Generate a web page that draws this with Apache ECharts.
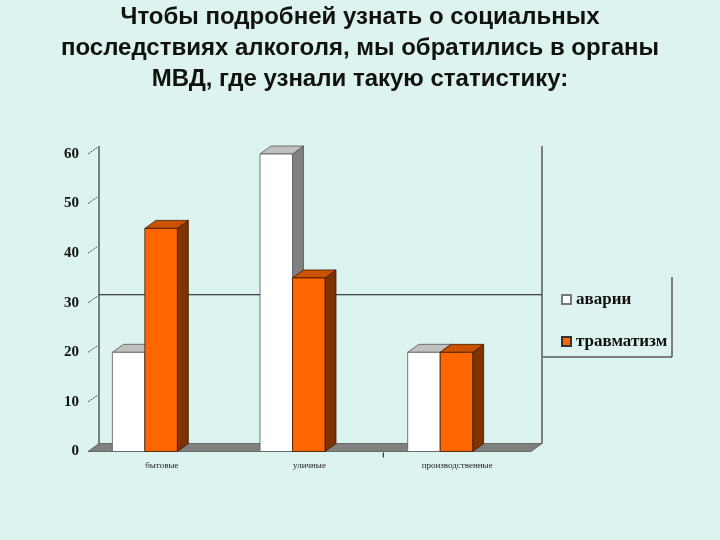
<!DOCTYPE html>
<html><head><meta charset="utf-8">
<script src="https://cdn.jsdelivr.net/npm/echarts@6/dist/echarts.min.js"></script>
<style>html,body{margin:0;padding:0;background:#dcf3f0;}#c{width:720px;height:540px;}</style>
</head><body><div id="c"></div>
<script>
const titleText = 'Чтобы подробней узнать о социальных\nпоследствиях алкоголя, мы обратились в органы\nМВД, где узнали такую статистику:';
const categories = ['бытовые', 'уличные', 'производственные'];
const seriesNames = ['аварии', 'травматизм'];
const accidents = [20, 60, 20];
const injuries = [45, 35, 20];
const yTicks = [0, 10, 20, 30, 40, 50, 60];
const backGridValue = 30;

const DX = 11, DY = -8;
const faceColors = [
  {front: '#ffffff', side: '#808080', top: '#c0c0c0', stroke: '#555555'},
  {front: '#ff6600', side: '#7f3300', top: '#cc5200', stroke: '#3a1a00'}
];
const barOffsets = [[-0.335, -0.115], [-0.115, 0.105]];

function boxRender(sIdx) {
  return function (params, api) {
    const cat = api.value(0), v = api.value(1);
    const base = api.coord([cat, 0]);
    const top = api.coord([cat, v]);
    const bw = api.size([1, 0])[0];
    const x0 = base[0] + barOffsets[sIdx][0] * bw;
    const x1 = base[0] + barOffsets[sIdx][1] * bw;
    const yb = base[1], yt = top[1];
    const c = faceColors[sIdx];
    const st = {stroke: c.stroke, lineWidth: 0.8};
    return {type: 'group', children: [
      {type: 'polygon', shape: {points: [[x1, yb], [x1 + DX, yb + DY], [x1 + DX, yt + DY], [x1, yt]]}, style: Object.assign({fill: c.side}, st)},
      {type: 'polygon', shape: {points: [[x0, yt], [x1, yt], [x1 + DX, yt + DY], [x0 + DX, yt + DY]]}, style: Object.assign({fill: c.top}, st)},
      {type: 'rect', shape: {x: x0, y: yt, width: x1 - x0, height: yb - yt}, style: Object.assign({fill: c.front}, st)}
    ]};
  };
}

function wallsRender(params, api) {
  const bw = api.size([1, 0])[0];
  const c0 = api.coord([0, 0]);
  const cN = api.coord([categories.length - 1, 0]);
  const L = c0[0] - bw / 2, R = cN[0] + bw / 2;
  const y0 = c0[1];
  const yMax = api.coord([0, yTicks[yTicks.length - 1]])[1];
  const yGrid = api.coord([0, backGridValue])[1];
  const line = {stroke: '#111', lineWidth: 1};
  const children = [
    {type: 'polygon', shape: {points: [[L, y0], [R, y0], [R + DX, y0 + DY], [L + DX, y0 + DY]]}, style: {fill: '#808080', stroke: '#555', lineWidth: 0.8}},
    {type: 'line', shape: {x1: L + DX, y1: y0 + DY, x2: L + DX, y2: yMax + DY}, style: line},
    {type: 'line', shape: {x1: R + DX, y1: y0 + DY, x2: R + DX, y2: yMax + DY}, style: line},
    {type: 'line', shape: {x1: L + DX, y1: yGrid + DY, x2: R + DX, y2: yGrid + DY}, style: line}
  ];
  yTicks.forEach(function (t) {
    if (t === 0) return;
    const y = api.coord([0, t])[1];
    children.push({type: 'line', shape: {x1: L, y1: y, x2: L + DX - 1, y2: y + DY + 1}, style: {stroke: '#222', lineWidth: 0.8, lineDash: [2, 1]}});
  });
  const xb = (api.coord([1, 0])[0] + api.coord([2, 0])[0]) / 2;
  children.push({type: 'line', shape: {x1: xb, y1: y0 + 1, x2: xb, y2: y0 + 6}, style: line});
  return {type: 'group', children: children};
}

const chart = echarts.init(document.getElementById('c'));
chart.setOption({
  backgroundColor: '#dcf3f0',
  animation: false,
  title: {
    text: titleText, left: 'center', top: 2, padding: 0,
    textStyle: {fontFamily: 'Liberation Sans', fontWeight: 'bold', fontSize: 24, lineHeight: 31, color: '#111'}
  },
  legend: {
    data: seriesNames, orient: 'vertical', left: 556, top: 286, itemGap: 25,
    icon: 'rect', itemWidth: 9, itemHeight: 9,
    textStyle: {fontFamily: 'Liberation Serif', fontWeight: 'bold', fontSize: 17, color: '#111'}
  },
  grid: {left: 88, right: 189, top: 154, bottom: 88.5},
  xAxis: {
    type: 'category', data: categories,
    axisLine: {show: false}, axisTick: {show: false},
    axisLabel: {margin: 10, fontFamily: 'Liberation Serif', fontSize: 9, color: '#222'}
  },
  yAxis: {
    type: 'value', min: 0, max: 60, interval: 10,
    axisLine: {show: false}, axisTick: {show: false}, splitLine: {show: false},
    axisLabel: {margin: 9, padding: [6, 0, 0, 0], fontFamily: 'Liberation Serif', fontWeight: 'bold', fontSize: 15, color: '#111'}
  },
  graphic: [
    {type: 'line', shape: {x1: 672, y1: 277, x2: 672, y2: 357}, style: {stroke: '#111', lineWidth: 1}},
    {type: 'line', shape: {x1: 543, y1: 357, x2: 672, y2: 357}, style: {stroke: '#111', lineWidth: 1}}
  ],
  series: [
    {type: 'custom', name: 'walls', renderItem: wallsRender, data: [[0, 0]], silent: true, z: 1},
    {type: 'custom', name: seriesNames[0], renderItem: boxRender(0), z: 2,
      itemStyle: {color: '#ffffff', borderColor: '#777', borderWidth: 1},
      data: accidents.map(function (v, i) { return [i, v]; })},
    {type: 'custom', name: seriesNames[1], renderItem: boxRender(1), z: 3,
      itemStyle: {color: '#ff6600', borderColor: '#333', borderWidth: 1},
      data: injuries.map(function (v, i) { return [i, v]; })}
  ]
});
</script></body></html>
